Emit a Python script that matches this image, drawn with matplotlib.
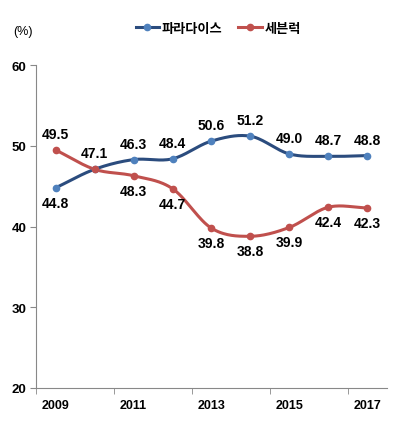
import numpy as np
import matplotlib.pyplot as plt

plt.rcParams['font.family'] = ['Liberation Sans', 'Noto Sans CJK KR', 'DejaVu Sans']

# data
years = ["2009", "2010", "2011", "2012", "2013", "2014", "2015", "2016", "2017"]
paradise = [44.8, 47.1, 48.3, 48.4, 50.6, 51.2, 49.0, 48.7, 48.8]
sevenluck = [49.5, 47.1, 46.3, 44.7, 39.8, 38.8, 39.9, 42.4, 42.3]
paradise_labels = ["44.8", "47.1", "46.3", "48.4", "50.6", "51.2", "49.0", "48.7", "48.8"]
sevenluck_labels = ["49.5", "", "48.3", "44.7", "39.8", "38.8", "39.9", "42.4", "42.3"]

BLUE_LINE = "#2B4C7E"
BLUE_MARK = "#4F81BD"
RED = "#C0504D"


def smooth(xs, ys, n=30):
    """Catmull-Rom curve through the points, like Excel's smoothed line."""
    xs = np.asarray(xs, float)
    ys = np.asarray(ys, float)
    px = np.concatenate([[2 * xs[0] - xs[1]], xs, [2 * xs[-1] - xs[-2]]])
    py = np.concatenate([[2 * ys[0] - ys[1]], ys, [2 * ys[-1] - ys[-2]]])
    out_x, out_y = [], []
    t = np.linspace(0, 1, n)
    for i in range(1, len(px) - 2):
        for p, out in ((px, out_x), (py, out_y)):
            p0, p1, p2, p3 = p[i - 1], p[i], p[i + 1], p[i + 2]
            seg = 0.5 * ((2 * p1) + (-p0 + p2) * t + (2 * p0 - 5 * p1 + 4 * p2 - p3) * t**2
                         + (-p0 + 3 * p1 - 3 * p2 + p3) * t**3)
            out.extend(seg)
    return np.array(out_x), np.array(out_y)


x = np.arange(len(years))

fig = plt.figure(figsize=(4.2, 4.27), dpi=100)
ax = fig.add_axes([0.086, 0.089, 0.835, 0.756])

sx, sy = smooth(x, paradise)
ax.plot(sx, sy, color=BLUE_LINE, lw=2.2, solid_capstyle='round', zorder=3)
ax.plot(x, paradise, 'o', color=BLUE_MARK, ms=4.5, zorder=4)
sx, sy = smooth(x, sevenluck)
ax.plot(sx, sy, color=RED, lw=2.2, solid_capstyle='round', zorder=3)
ax.plot(x, sevenluck, 'o', color=RED, ms=4.5, zorder=4)

# value labels
for i in range(len(years)):
    off = -15 if i == 0 else 16
    ax.annotate(paradise_labels[i], (x[i], paradise[i]), xytext=(0, off), textcoords='offset pixels',
                ha='center', va='center', fontsize=10, fontweight='bold')
    if sevenluck_labels[i]:
        off = 16 if i == 0 else -15
        ax.annotate(sevenluck_labels[i], (x[i], sevenluck[i]), xytext=(0, off), textcoords='offset pixels',
                    ha='center', va='center', fontsize=10, fontweight='bold')

ax.set_xlim(-0.5, len(years) - 0.5)
ax.set_ylim(20, 60)
ax.set_yticks([20, 30, 40, 50, 60])
ax.set_xticks(x[::2])
ax.set_xticklabels(years[::2], fontsize=9, fontweight='bold')
ax.set_xticks(np.arange(-0.5, len(years) - 0.5, 2), minor=True)
ax.tick_params(axis='x', which='major', length=0, pad=8)
ax.tick_params(axis='x', which='minor', length=4, color='#888888')
ax.tick_params(axis='y', length=4, color='#888888', labelsize=9.5, pad=3)
for lab in ax.get_yticklabels():
    lab.set_fontweight('bold')

for s in ['top', 'right']:
    ax.spines[s].set_visible(False)
for s in ['left', 'bottom']:
    ax.spines[s].set_color('#888888')

fig.text(0.031, 0.925, "(%)", fontsize=9, ha='left', va='center')

# legend
h1, = ax.plot([], [], '-o', color=BLUE_LINE, mfc=BLUE_MARK, mec=BLUE_MARK, lw=2.2, ms=4.5)
h2, = ax.plot([], [], '-o', color=RED, lw=2.2, ms=4.5)
fig.legend([h1, h2], ["파라다이스", "세븐럭"], loc='center', bbox_to_anchor=(0.52, 0.932),
           ncol=2, frameon=False, handlelength=1.8, handletextpad=0.2, columnspacing=1.2,
           prop={'family': ['Noto Sans CJK KR'], 'weight': 'bold', 'size': 9.5})

fig.savefig("out.png", dpi=100)
